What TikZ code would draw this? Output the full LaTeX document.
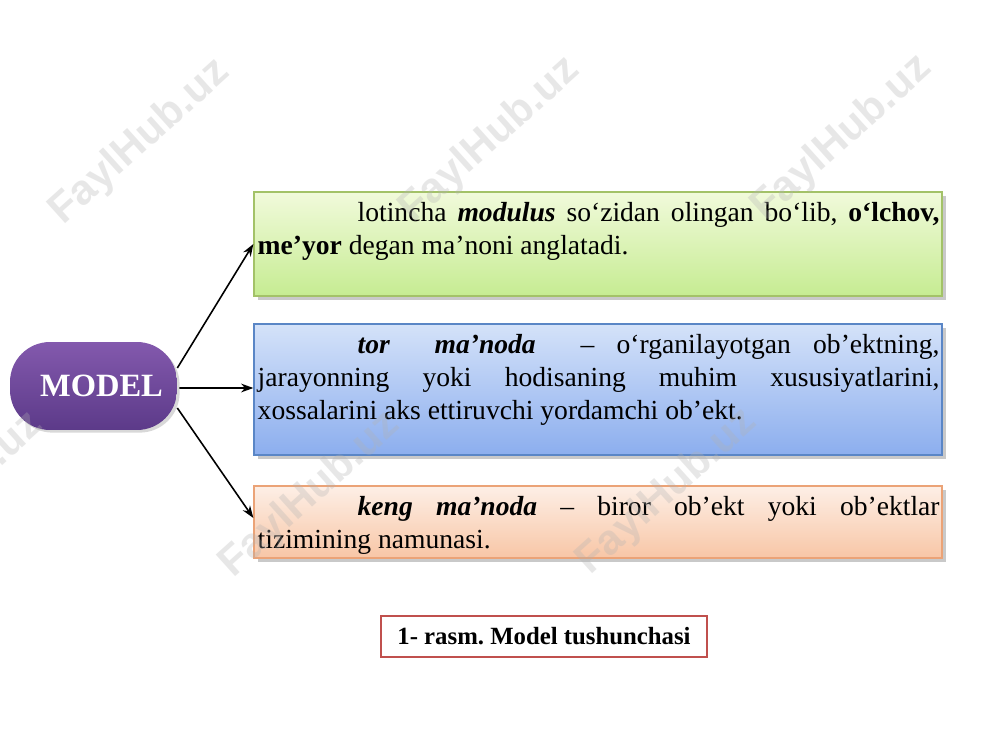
\documentclass[tikz,border=0pt]{standalone}
\usepackage{fontspec}
\setmainfont{Liberation Serif}
\newfontfamily\wmfont{Liberation Sans}
\usetikzlibrary{arrows.meta,shadows}
\definecolor{gtop}{HTML}{F1FADB}
\definecolor{gbot}{HTML}{C6EC92}
\definecolor{gline}{HTML}{A3C268}
\definecolor{btop}{HTML}{D4E2F9}
\definecolor{bbot}{HTML}{8CAEEE}
\definecolor{bline}{HTML}{5A86C6}
\definecolor{otop}{HTML}{FDEFE6}
\definecolor{obot}{HTML}{F8C6A6}
\definecolor{oline}{HTML}{EBA377}
\definecolor{mtop}{HTML}{8359AD}
\definecolor{mbot}{HTML}{5C3A89}
\definecolor{capred}{HTML}{C0504D}
\frenchspacing
\begin{document}
\begin{tikzpicture}[x=0.02cm,y=-0.02cm,
  box/.style={draw, line width=0.8pt, minimum width=13.76cm, inner sep=0pt,
    drop shadow={shadow xshift=2.5pt,shadow yshift=-2.5pt,opacity=0.35,fill=black!60}},
  txt/.style={anchor=north west, inner sep=0pt, text width=13.64cm, align=justify,
    font=\fontsize{15.7}{18.9}\selectfont},
  conn/.style={-{Stealth[length=7pt,width=5pt]}, line width=0.9pt},
  wm/.style={rotate=42, text=black!30, opacity=0.3,
    font=\wmfont\bfseries\fontsize{24}{24}\selectfont}
]
\useasboundingbox[fill=white] (0,0) rectangle (1000,750);

% boxes
\node[box, draw=gline, top color=gtop, bottom color=gbot, minimum height=2.08cm] (b1) at (598,244) {};
\node[box, draw=bline, top color=btop, bottom color=bbot, minimum height=2.62cm] (b2) at (598,389.5) {};
\node[box, draw=oline, top color=otop, bottom color=obot, minimum height=1.44cm] (b3) at (598,522) {};

% texts
\node[txt] (t1) at ([xshift=0.08cm,yshift=-0.13cm]b1.north west)
  {\strut\hspace*{2cm}lotincha \textbf{\textit{modulus}} so‘zidan olingan bo‘lib, \textbf{o‘lchov,}\linebreak
   \textbf{me’yor} degan ma’noni anglatadi.};
\node[txt] (t2) at ([xshift=0.08cm,yshift=-0.13cm]b2.north west)
  {\strut\hspace*{2cm}\textbf{\textit{tor\ \ ma’noda}}\ \ -- o‘rganilayotgan ob’ektning,\linebreak
   jarayonning yoki hodisaning muhim xususiyatlarini,\linebreak
   xossalarini aks ettiruvchi yordamchi ob’ekt.};
\node[txt] (t3) at ([xshift=0.08cm,yshift=-0.13cm]b3.north west)
  {\strut\hspace*{2cm}\textbf{\textit{keng ma’noda}} -- biror ob’ekt yoki ob’ektlar\linebreak
   tizimining namunasi.};

% MODEL
\node[rounded corners=0.8cm, minimum width=3.34cm, minimum height=1.76cm, inner sep=0pt,
  top color=mtop, bottom color=mbot, text=white,
  font=\bfseries\fontsize{18.5}{20}\selectfont,
  drop shadow={shadow xshift=1.5pt,shadow yshift=-1.5pt,opacity=0.3,fill=black!50}]
  (model) at (93.5,386) {\hspace{0.32cm}MODEL};

% connectors
\draw[conn] ([yshift=0.36cm]model.east) -- (b1.west);
\draw[conn] ([xshift=0.04cm,yshift=-0.04cm]model.east) -- ([yshift=0.03cm]b2.west);
\draw[conn] ([yshift=-0.44cm]model.east) -- ([yshift=0.08cm]b3.west);

% caption
\node[draw=capred, line width=1.2pt, fill=white, minimum width=6.52cm, minimum height=0.82cm,
  inner sep=0pt, font=\bfseries\fontsize{14.1}{16}\selectfont]
  (cap) at (544,636.5) {1- rasm. Model tushunchasi\hspace{0.16cm}};

% watermarks
\foreach \x/\y [count=\i] in {140/142, 490/140, 842/138, -47/495, 310/495, 667/492}
  \node[wm] (wm\i) at (\x,\y) {FaylHub.uz};
\end{tikzpicture}
\end{document}
